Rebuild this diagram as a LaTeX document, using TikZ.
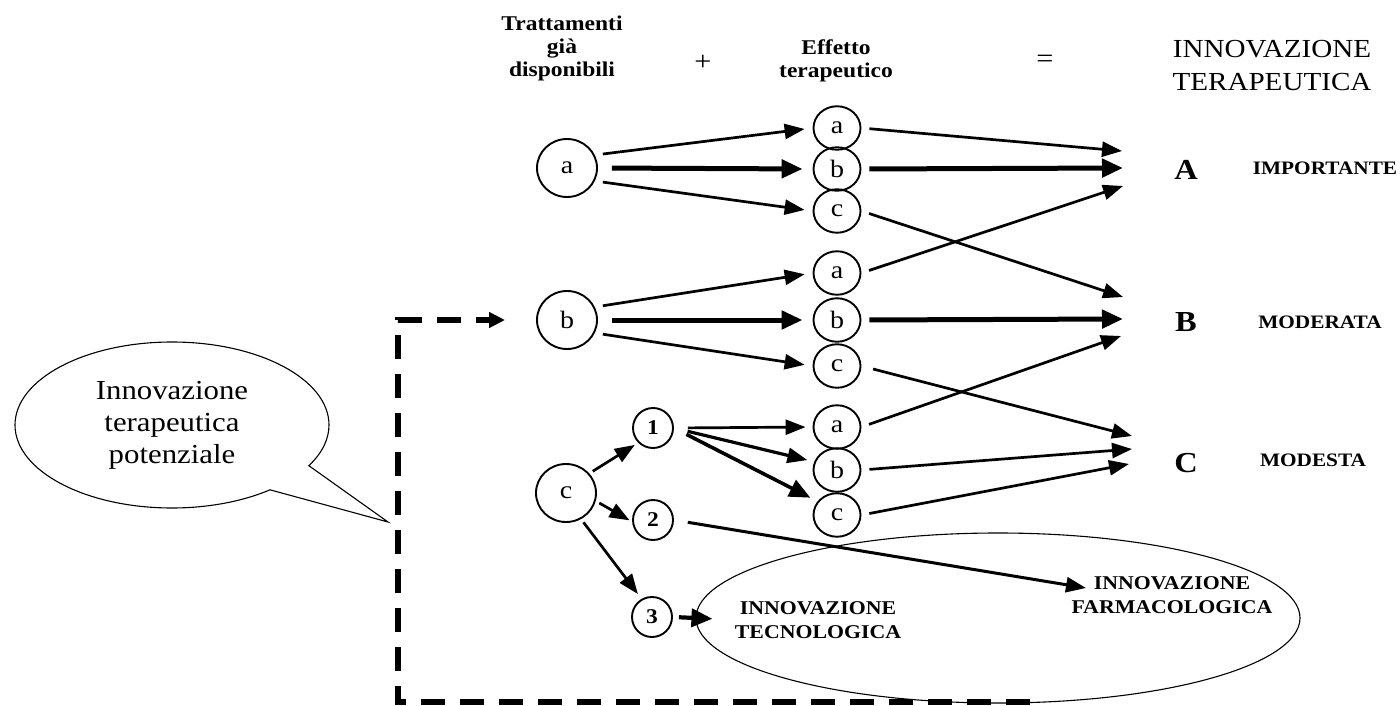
\documentclass[tikz,border=0pt]{standalone}
\usepackage{fontspec}
\setmainfont{Liberation Serif}[FakeStretch=1.12]
\usetikzlibrary{arrows.meta,shapes.geometric,shapes.callouts}
\newcommand\fsz[2]{\fontsize{#1}{#2}\selectfont}
\begin{document}
\begin{tikzpicture}[x=1pt,y=-1pt,
  circ/.style={draw, ellipse, line width=1.9pt, inner sep=0pt, font=\fsz{25}{26}},
  bigc/.style={circ, minimum width=60pt, minimum height=58pt},
  midc/.style={circ, minimum width=47pt, minimum height=43.5pt},
  numc/.style={circ, minimum width=40pt, minimum height=40pt, font=\bfseries\fsz{21}{22}},
  arr/.style={line width=2.7pt, -{Triangle[length=20pt,width=15pt]}},
  tarr/.style={line width=5pt, -{Triangle[length=21pt,width=18pt]}},
  hdr/.style={font=\bfseries\fsz{21}{23}, align=center, inner sep=0pt},
  lbl/.style={font=\bfseries\fsz{19.5}{24}, align=center, inner sep=0pt},
  grade/.style={font=\bfseries\fsz{29}{30}, inner sep=0pt},
  gname/.style={font=\bfseries\fsz{19}{20}, inner sep=0pt},
  dashline/.style={line width=5.5pt, dash pattern=on 24pt off 15pt, -{Triangle[length=16pt,width=15pt]}}
]
\useasboundingbox (0,0) rectangle (1400,706);

% headers
\node[hdr] (TR) at (562,48) {Trattamenti\\già\\disponibili};
\node[inner sep=0pt, font=\fsz{27}{28}] (PL) at (703,63) {+};
\node[hdr] (EF) at (836,61) {Effetto\\terapeutico};
\node[inner sep=0pt, font=\fsz{27}{28}] (EQ) at (1045,61) {=};
\node[inner sep=0pt, align=center, font=\fsz{26}{33}] (IT) at (1272,66) {INNOVAZIONE\\TERAPEUTICA};

% left nodes
\node[bigc] (La) at (567,168) {a};
\node[bigc] (Lb) at (567,320) {b};
\node[bigc] (Lc) at (566,493) {c};

% middle nodes
\node[midc] (M1a) at (837,128) {a};
\node[midc] (M1b) at (837,169) {b};
\node[midc] (M1c) at (837,211) {c};
\node[midc] (M2a) at (837,273) {a};
\node[midc] (M2b) at (837,320) {b};
\node[midc] (M2c) at (837,366) {c};
\node[midc] (M3a) at (837,427) {a};
\node[midc] (M3b) at (837,470) {b};
\node[midc] (M3c) at (837,515) {c};

% numbered nodes
\node[numc] (N1) at (653,428) {1};
\node[numc] (N2) at (653,520) {2};
\node[numc] (N3) at (652,617) {3};

% grades
\node[grade] (GA) at (1186,170) {A};
\node[grade] (GB) at (1186,322) {B};
\node[grade] (GC) at (1186,463) {C};
\node[gname] (IMP) at (1325,168) {IMPORTANTE};
\node[gname] (MOD) at (1320,322) {MODERATA};
\node[gname] (MDS) at (1313,460) {MODESTA};

% arrow end points
\coordinate (A1) at (1122,151);
\coordinate (A2) at (1123,168);
\coordinate (A3) at (1123,186);
\coordinate (B1) at (1123,297);
\coordinate (B2) at (1123,319);
\coordinate (B3) at (1121,336);
\coordinate (C1) at (1132,436);
\coordinate (C2) at (1132,449);
\coordinate (C3) at (1129,464);

% big ellipse and texts
\node[draw, ellipse, line width=1.1pt, minimum width=604pt, minimum height=170pt, inner sep=0pt] (BE) at (998,618) {};
\node[lbl] (TEC) at (818,620) {INNOVAZIONE\\TECNOLOGICA};
\node[lbl] (FA) at (1172,595) {INNOVAZIONE\\FARMACOLOGICA};
\coordinate (FAin) at (1086,588);

% speech bubble
\node[ellipse callout, draw, line width=1.1pt, minimum width=314pt, minimum height=166pt,
      inner sep=0pt, callout absolute pointer={(388,522)}, callout pointer arc=22,
      align=center, font=\fsz{27.5}{32}] (SP) at (172,425) {Innovazione\\terapeutica\\potenziale};

% left -> middle
\draw[arr, shorten <=8pt, shorten >=8pt] (La.25) -- (M1a.west);
\draw[tarr, shorten <=14pt, shorten >=10pt] (La.east) -- (M1b.west);
\draw[arr, shorten <=8pt, shorten >=8pt] (La.-25) -- (M1c.west);
\draw[arr, shorten <=8pt, shorten >=8pt] (Lb.25) -- (M2a.west);
\draw[tarr, shorten <=14pt, shorten >=10pt] (Lb.east) -- (M2b.west);
\draw[arr, shorten <=8pt, shorten >=8pt] (Lb.-25) -- (M2c.west);

% c -> numbers
\draw[arr, shorten <=4pt, shorten >=4pt] (Lc.40) -- (N1.225);
\draw[arr, shorten <=4pt, shorten >=3pt] (Lc.-15) -- (N2.185);
\draw[arr, shorten <=4pt, shorten >=6pt] (Lc.-60) -- (N3.120);

% 1 -> middle third group
\draw[arr, shorten <=14pt, shorten >=7pt] (N1.east) -- (M3a.west);
\draw[arr, line width=3.2pt, shorten <=14pt, shorten >=7pt] (N1.east) -- (M3b.160);
\draw[tarr, line width=3.6pt, shorten <=14pt, shorten >=8pt] (N1.east) -- (M3c.145);

% 2 -> farmacologica, 3 -> tecnologica
\draw[arr, line width=3pt, shorten <=14pt] (N2.east) -- (FAin);
\draw[tarr, line width=4.2pt, shorten <=6pt, shorten >=-17pt] (N3.east) -- (BE.west);

% middle -> grades
\draw[arr, shorten <=8pt] (M1a.east) -- (A1);
\draw[tarr, shorten <=8pt] (M1b.east) -- (A2);
\draw[arr, shorten <=8pt] (M2a.east) -- (A3);
\draw[arr, shorten <=8pt] (M1c.east) -- (B1);
\draw[tarr, shorten <=8pt] (M2b.east) -- (B2);
\draw[arr, shorten <=8pt] (M3a.east) -- (B3);
\draw[arr, shorten <=12pt] (M2c.east) -- (C1);
\draw[arr, shorten <=8pt] (M3b.east) -- (C2);
\draw[arr, shorten <=8pt] (M3c.east) -- (C3);

% dashed feedback line
\coordinate (dS) at (1030,702);
\coordinate (dL) at (398,702);
\coordinate (dU) at (398,320);
\draw[dashline, shorten >=31pt] (dS) -- (dL) -- (dU) -- (Lb.west);
\end{tikzpicture}
\end{document}
